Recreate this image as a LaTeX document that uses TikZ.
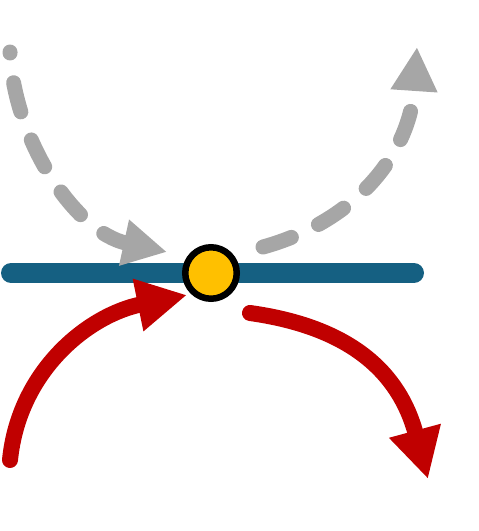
\documentclass[tikz,border=0pt]{standalone}
\usetikzlibrary{arrows.meta}
\definecolor{deepblue}{HTML}{156082}
\definecolor{darkred}{HTML}{C00000}
\definecolor{amber}{HTML}{FFC000}
\definecolor{midgray}{HTML}{A6A6A6}
\begin{document}
\begin{tikzpicture}[x=0.02cm,y=-0.02cm,
 ray/.style={midgray,line width=0.3cm,line cap=round,dash pattern=on 0.6cm off 0.6cm,-{Triangle[length=0.88cm,width=0.88cm]}},
 swing/.style={darkred,line width=0.32cm,line cap=round,-{Triangle[length=1cm,width=1cm]}},
 dot/.style={circle,draw=black,fill=amber,line width=0.13cm,minimum size=1.03cm,inner sep=0pt}]
\useasboundingbox (0,0) rectangle (479,531);
\coordinate (left) at (11,273);
\coordinate (right) at (414,273);
\draw[deepblue,line width=0.4cm,line cap=round] (left)--(right);
\node[dot] (hit) at (211,273) {};
% grey: incoming and reflected
\coordinate (inStart) at (10,52);
\coordinate (inTip) at (167,252);
\coordinate (outStart) at (263,247);
\coordinate (outTip) at (417,47);
\draw[ray,dash phase=0.58cm] (inStart) .. controls (14,140) and (75,232) .. (inTip);
\draw[ray] (outStart) .. controls (360,220) and (410,150) .. (outTip);
% red: below the line
\coordinate (upStart) at (10,460);
\coordinate (upTip) at (187,295);
\coordinate (downStart) at (250,313);
\coordinate (downTip) at (428,479);
\draw[swing] (upStart) .. controls (19,370) and (89,315) .. (upTip);
\draw[swing] (downStart) .. controls (350,327) and (399,372) .. (downTip);
\end{tikzpicture}
\end{document}
